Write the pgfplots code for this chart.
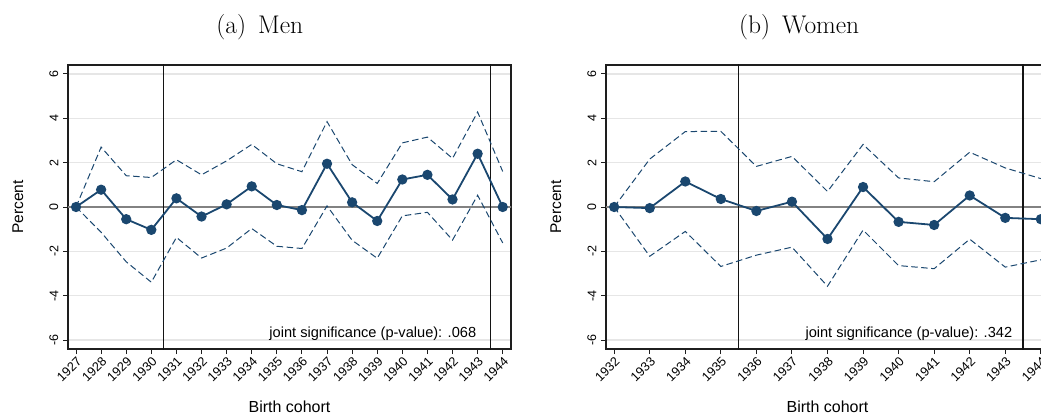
\documentclass[border=0pt]{standalone}
\usepackage{pgfplots}
\usepackage{pgfplotstable}
\pgfplotsset{compat=1.18}
\usepackage{fontspec}
\newfontfamily\arial{Liberation Sans}

\definecolor{navy}{RGB}{26,71,111}
\definecolor{gridgray}{RGB}{230,230,230}
\definecolor{zerogray}{RGB}{130,130,130}
\definecolor{refline}{RGB}{20,20,20}
\definecolor{frame}{RGB}{30,30,30}

% year, point estimate, lower and upper bound of the 95% interval
\pgfplotstableread{
year est lo hi
1927  0.00  0.00 0.00
1928  0.78 -1.14 2.70
1929 -0.55 -2.47 1.41
1930 -1.03 -3.39 1.33
1931  0.39 -1.37 2.13
1932 -0.43 -2.30 1.45
1933  0.12 -1.85 2.08
1934  0.93 -0.97 2.82
1935  0.09 -1.77 1.95
1936 -0.14 -1.87 1.59
1937  1.95  0.05 3.85
1938  0.21 -1.50 1.91
1939 -0.63 -2.31 1.06
1940  1.24 -0.40 2.89
1941  1.45 -0.24 3.15
1942  0.34 -1.49 2.19
1943  2.40  0.53 4.28
1944  0.00 -1.62 1.60
}\men

\pgfplotstableread{
year est lo hi
1932  0.00  0.00 0.00
1933 -0.05 -2.22 2.16
1934  1.15 -1.10 3.40
1935  0.36 -2.68 3.41
1936 -0.18 -2.17 1.83
1937  0.24 -1.81 2.28
1938 -1.44 -3.57 0.70
1939  0.90 -1.04 2.82
1940 -0.67 -2.64 1.31
1941 -0.81 -2.78 1.14
1942  0.52 -1.45 2.47
1943 -0.49 -2.71 1.76
1944 -0.55 -2.38 1.28
}\women

\pgfplotsset{
  panel/.style={
    anchor=south west,
    scale only axis, width=443pt, height=284pt,
    ymin=-6.4, ymax=6.4,
    ytick={-6,-4,-2,0,2,4,6},
    yticklabels={-6,-4,-2,0,2,4,6},
    ymajorgrids,
    grid style={gridgray, line width=1.4pt},
    axis line style={frame, line width=1.3pt},
    tick style={frame, line width=1pt},
    major tick length=5pt,
    tick align=outside,
    xtick pos=bottom, ytick pos=left,
    font=\arial,
    xticklabel style={rotate=45, anchor=north east, inner sep=1pt,
      font=\arial\fontsize{12.8}{14}\selectfont},
    yticklabel style={rotate=90, anchor=south, inner sep=4.5pt,
      font=\arial\fontsize{12.5}{14}\selectfont},
    ylabel={Percent},
    ylabel style={font=\arial\fontsize{15.5}{16}\selectfont,
      at={(axis description cs:-0.113,0.5)}, anchor=center},
    xlabel={Birth cohort},
    xlabel style={font=\arial\fontsize{16}{17}\selectfont,
      at={(axis description cs:0.5,-0.205)}, anchor=center},
    title style={font=\rmfamily\fontsize{25.5}{30}\selectfont, anchor=base},
  },
  ci/.style={navy, line width=1pt, dash pattern=on 6.5pt off 3.5pt},
  est/.style={navy, line width=1.8pt, mark=*, mark size=4.2pt,
    mark options={solid, fill=navy}},
}

\begin{document}
\begin{tikzpicture}
\path[use as bounding box] (0pt,0pt) rectangle (1041pt,416pt);
\clip (0pt,0pt) rectangle (1041pt,416pt);

% Men
\begin{axis}[panel, at={(68pt,67pt)},
  xmin=1926.68, xmax=1944.33,
  xtick={1927,1928,1929,1930,1931,1932,1933,1934,1935,1936,1937,1938,1939,1940,1941,1942,1943,1944},
  xticklabels={1927,1928,1929,1930,1931,1932,1933,1934,1935,1936,1937,1938,1939,1940,1941,1942,1943,1944},
  title={(a)\hspace{12pt}Men},
  title style={at={(axis description cs:0.433,1.09)}},
]
\addplot[zerogray, line width=1.1pt] coordinates {(1926,0) (1946,0)};
\addplot[refline, line width=1.2pt] coordinates {(1930.5,-7) (1930.5,7)};
\addplot[refline, line width=1.2pt] coordinates {(1943.5,-7) (1943.5,7)};
\addplot[ci] table[x=year, y=hi] {\men};
\addplot[ci] table[x=year, y=lo] {\men};
\addplot[est] table[x=year, y=est] {\men};
\node[font=\arial\fontsize{14.6}{15}\selectfont, anchor=base east, inner sep=0pt]
  at (axis cs:1942.95,-5.86) {joint significance (p-value): .068};
\end{axis}

% Women
\begin{axis}[panel, at={(606pt,67pt)},
  xmin=1931.77, xmax=1944.23,
  xtick={1932,1933,1934,1935,1936,1937,1938,1939,1940,1941,1942,1943,1944},
  xticklabels={1932,1933,1934,1935,1936,1937,1938,1939,1940,1941,1942,1943,1944},
  title={(b)\hspace{12pt}Women},
  title style={at={(axis description cs:0.436,1.09)}},
]
\addplot[zerogray, line width=1.1pt] coordinates {(1931,0) (1946,0)};
\addplot[refline, line width=1.2pt] coordinates {(1935.5,-7) (1935.5,7)};
\addplot[refline, line width=1.2pt] coordinates {(1943.5,-7) (1943.5,7)};
\addplot[ci] table[x=year, y=hi] {\women};
\addplot[ci] table[x=year, y=lo] {\women};
\addplot[est] table[x=year, y=est] {\women};
\node[font=\arial\fontsize{14.6}{15}\selectfont, anchor=base east, inner sep=0pt]
  at (axis cs:1943.2,-5.86) {joint significance (p-value): .342};
\end{axis}
\end{tikzpicture}
\end{document}
